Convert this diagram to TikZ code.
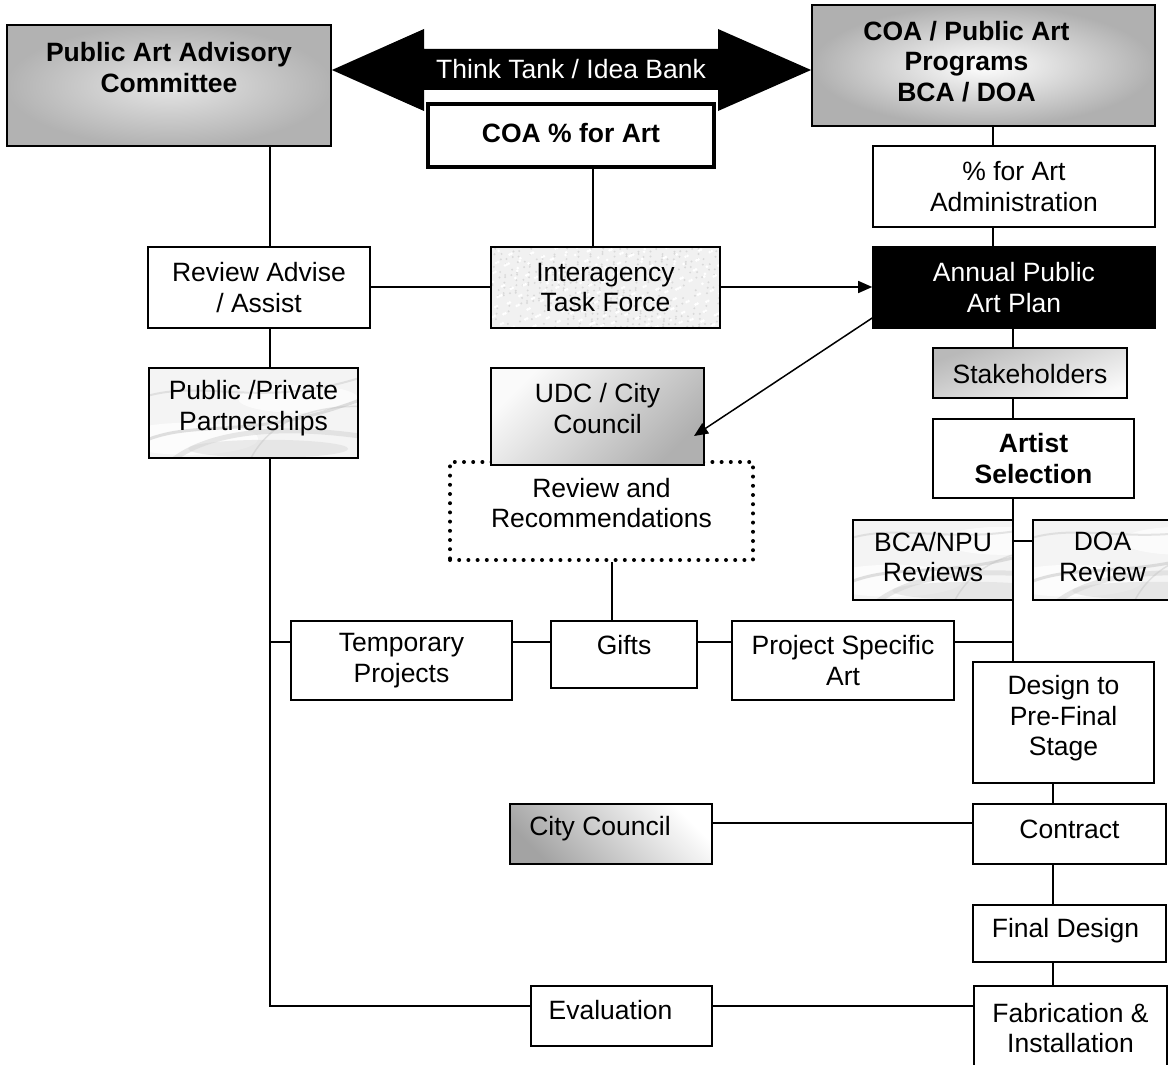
\documentclass[tikz,border=0pt]{standalone}
\usepackage{fontspec}
\setmainfont{Liberation Sans}
\usetikzlibrary{arrows.meta,calc}
\pgfdeclarelayer{bg}
\pgfsetlayers{bg,main}
\newcommand\marbletex[1]{%
  \begin{pgfonlayer}{bg}
  \begin{scope}
    \clip (#1.south west) rectangle (#1.north east);
    \fill[gray!9] (#1.south west) rectangle (#1.north east);
    \begin{scope}[shift={(#1.south west)}, x=1pt, y=1pt]
      \fill[white, opacity=.8] (40,20) ellipse (70pt and 16pt);
      \fill[white, opacity=.7] (150,60) ellipse (60pt and 14pt);
      \fill[gray!30, opacity=.5] (120,10) ellipse (80pt and 9pt);
      \draw[gray!45, opacity=.55, line width=3pt] (-10,15) .. controls (50,45) and (110,10) .. (250,75);
      \draw[gray!40, opacity=.5, line width=2pt] (-10,60) .. controls (60,85) and (120,40) .. (250,95);
      \draw[gray!35, opacity=.5, line width=5pt] (20,-5) .. controls (60,30) and (140,35) .. (230,20);
      \draw[gray!50, opacity=.4, line width=1.5pt] (100,-5) .. controls (120,40) and (170,60) .. (250,50);
    \end{scope}
  \end{scope}
  \end{pgfonlayer}}
\newcommand\specktex[1]{%
  \begin{pgfonlayer}{bg}
  \begin{scope}
    \clip (#1.south west) rectangle (#1.north east);
    \fill[gray!11] (#1.south west) rectangle (#1.north east);
    \begin{scope}[shift={(#1.south west)}, x=1pt, y=1pt]
      \foreach \k in {1,...,420}{
        \pgfmathsetmacro{\rx}{mod(\k*23.3+mod(\k*13,29)*11.3,233)}
        \pgfmathsetmacro{\ry}{mod(\k*11.9+mod(\k*7,17)*5.3,83)}
        \fill[gray!30] (\rx,\ry) circle (1.1pt);
      }
      \foreach \k in {1,...,300}{
        \pgfmathsetmacro{\rx}{mod(\k*31.7+mod(\k*11,23)*9.1,233)}
        \pgfmathsetmacro{\ry}{mod(\k*17.3+mod(\k*5,19)*4.7,83)}
        \fill[white] (\rx,\ry) circle (1.5pt);
      }
    \end{scope}
  \end{scope}
  \end{pgfonlayer}}
\begin{document}
\begin{tikzpicture}[x=1pt,y=-1pt,
  box/.style={draw=black, line width=1.6pt, inner sep=0pt, fill=white},
  tex/.style={draw=black, line width=1.6pt, inner sep=0pt},
  lbl/.style={align=center, inner sep=0pt, font=\fontsize{26.5}{30.5}\selectfont},
  blbl/.style={lbl, font=\fontsize{26.5}{30.5}\selectfont\bfseries},
  conn/.style={line width=1.5pt},
  arr/.style={conn, -{Triangle[length=14pt,width=12pt]}},
  dotbox/.style={draw=black, line width=4pt, dash pattern=on 0pt off 9.2pt, line cap=round, inner sep=0pt}
]
\useasboundingbox (0,0) rectangle (1168,1065);

% spine coordinates
\coordinate (sl) at (270,0);
\coordinate (sr) at (1013,0);
\coordinate (sa) at (993,0);
\coordinate (sb) at (1053,0);
\coordinate (sp) at (593,0);
\coordinate (sg) at (612,0);
\coordinate (ay) at (0,70);
\coordinate (rowi) at (0,287);
\coordinate (rowa) at (0,318);
\coordinate (row) at (0,642);
\coordinate (rowd) at (0,541);
\coordinate (rowc) at (0,823);
\coordinate (rowb) at (0,1006);
\coordinate (udctip) at (694,436);

% top row
\node[box, line width=1.8pt, shading=radial, inner color=gray!20, outer color=gray!60,
      minimum width=324pt, minimum height=121pt,
      label={[blbl, yshift=18pt]center:{Public Art Advisory\\Committee}}] (paac) at (169,85.5) {};
\node[box, line width=1.8pt, shading=radial, inner color=white, outer color=gray!62,
      minimum width=343pt, minimum height=121pt,
      label={[blbl, xshift=-17pt, yshift=4pt]center:{COA / Public Art\\Programs\\BCA / DOA}}] (coa) at (983.5,65.5) {};
\node[box, line width=4pt, minimum width=286pt, minimum height=63pt,
      label={[blbl, yshift=2pt]center:{COA \% for Art}}] (pct) at (571,135.5) {};

% double arrow
\fill[black] (paac.east |- ay) -- (424,29) -- (424,49) -- (718,49) -- (718,29)
  -- (coa.west |- ay) -- (718,111) -- (718,90) -- (424,90) -- (424,111) -- cycle;
\node[lbl, text=white] (think) at (571,69) {Think Tank / Idea Bank};

% right column
\node[box, minimum width=282pt, minimum height=81pt,
      label={[lbl]center:{\% for Art\\Administration}}] (admin) at (1014,186.5) {};
\node[box, fill=black, minimum width=282pt, minimum height=81pt,
      label={[lbl, text=white]center:{Annual Public\\Art Plan}}] (annual) at (1014,287.5) {};
\node[box, top color=gray!55, bottom color=gray!4, shading angle=20,
      minimum width=194pt, minimum height=50pt,
      label={[lbl, yshift=-1pt]center:{Stakeholders}}] (stake) at (1030,373) {};
\node[box, minimum width=201pt, minimum height=79pt,
      label={[blbl]center:{Artist\\Selection}}] (artist) at (1033.5,458.5) {};
\node[tex, minimum width=160pt, minimum height=80pt,
      label={[lbl, yshift=3pt]center:{BCA/NPU\\Reviews}}] (bca) at (933,560) {};
\node[tex, minimum width=139pt, minimum height=80pt,
      label={[lbl, yshift=3pt]center:{DOA\\Review}}] (doa) at (1102.5,560) {};
\node[box, minimum width=181pt, minimum height=121pt,
      label={[lbl, yshift=4pt]center:{Design to\\Pre-Final\\Stage}}] (design) at (1063.5,722.5) {};
\node[box, minimum width=193pt, minimum height=60pt,
      label={[lbl, yshift=5pt]center:{Contract}}] (contract) at (1069.5,834) {};
\node[box, minimum width=193pt, minimum height=57pt,
      label={[lbl, xshift=-4pt, yshift=3pt]center:{Final Design}}] (final) at (1069.5,933.5) {};
\node[box, minimum width=193pt, minimum height=92pt,
      label={[lbl, yshift=4pt]center:{Fabrication \&\\Installation}}] (fab) at (1070.5,1032) {};

% left / middle
\node[box, minimum width=222pt, minimum height=81pt,
      label={[lbl]center:{Review Advise\\/ Assist}}] (review) at (259,287.5) {};
\node[tex, minimum width=229pt, minimum height=81pt,
      label={[lbl]center:{Interagency\\Task Force}}] (inter) at (605.5,287.5) {};
\node[tex, minimum width=209pt, minimum height=90pt,
      label={[lbl, yshift=5pt]center:{Public /Private\\Partnerships}}] (ppp) at (253.5,413) {};
\node[dotbox, fill=white, minimum width=303pt, minimum height=98pt,
      label={[lbl, yshift=8pt]center:{Review and\\Recommendations}}] (rev) at (601.5,511) {};
\node[box, top color=gray!4, bottom color=gray!62, shading angle=45,
      minimum width=213pt, minimum height=97pt,
      label={[lbl, yshift=8pt]center:{UDC / City\\Council}}] (udc) at (597.5,416.5) {};
\node[box, minimum width=221pt, minimum height=79pt,
      label={[lbl]center:{Temporary\\Projects}}] (temp) at (401.5,660.5) {};
\node[box, minimum width=146pt, minimum height=67pt,
      label={[lbl, yshift=9pt]center:{Gifts}}] (gifts) at (624,654.5) {};
\node[box, minimum width=222pt, minimum height=79pt,
      label={[lbl]center:{Project Specific\\Art}}] (proj) at (843,660.5) {};
\node[box, top color=white, bottom color=gray!72, shading angle=-45,
      minimum width=202pt, minimum height=60pt,
      label={[lbl, xshift=-11pt, yshift=5pt]center:{City Council}}] (city) at (611,834) {};
\node[box, minimum width=181pt, minimum height=60pt,
      label={[lbl, xshift=-11pt, yshift=6pt]center:{Evaluation}}] (eval) at (621.5,1016) {};

% textures behind the textured boxes
\marbletex{ppp}
\marbletex{bca}
\marbletex{doa}
\specktex{inter}

% connectors
\draw[conn] (paac.south -| sl) -- (review.north -| sl);
\draw[conn] (review.south -| sl) -- (ppp.north -| sl);
\draw[conn] (ppp.south -| sl) -- (sl |- rowb) -- (eval.west |- rowb);
\draw[conn] (sl |- row) -- (temp.west |- row);
\draw[conn] (temp.east |- row) -- (gifts.west |- row);
\draw[conn] (gifts.east |- row) -- (proj.west |- row);
\draw[conn] (proj.east |- row) -- (sr |- row);
\draw[conn] (pct.south -| sp) -- (inter.north -| sp);
\draw[conn] (review.east |- rowi) -- (inter.west |- rowi);
\draw[arr] (inter.east |- rowi) -- (annual.west |- rowi);
\draw[arr] (annual.west |- rowa) -- (udctip);
\draw[conn] (coa.south -| sa) -- (admin.north -| sa);
\draw[conn] (admin.south -| sa) -- (annual.north -| sa);
\draw[conn] (annual.south -| sr) -- (stake.north -| sr);
\draw[conn] (stake.south -| sr) -- (artist.north -| sr);
\draw[conn] (artist.south -| sr) -- (design.north -| sr);
\draw[conn] (bca.east |- rowd) -- (doa.west |- rowd);
\draw[conn] (rev.south -| sg) -- (gifts.north -| sg);
\draw[conn] (design.south -| sb) -- (contract.north -| sb);
\draw[conn] (contract.south -| sb) -- (final.north -| sb);
\draw[conn] (final.south -| sb) -- (fab.north -| sb);
\draw[conn] (city.east |- rowc) -- (contract.west |- rowc);
\draw[conn] (eval.east |- rowb) -- (fab.west |- rowb);
\end{tikzpicture}
\end{document}
